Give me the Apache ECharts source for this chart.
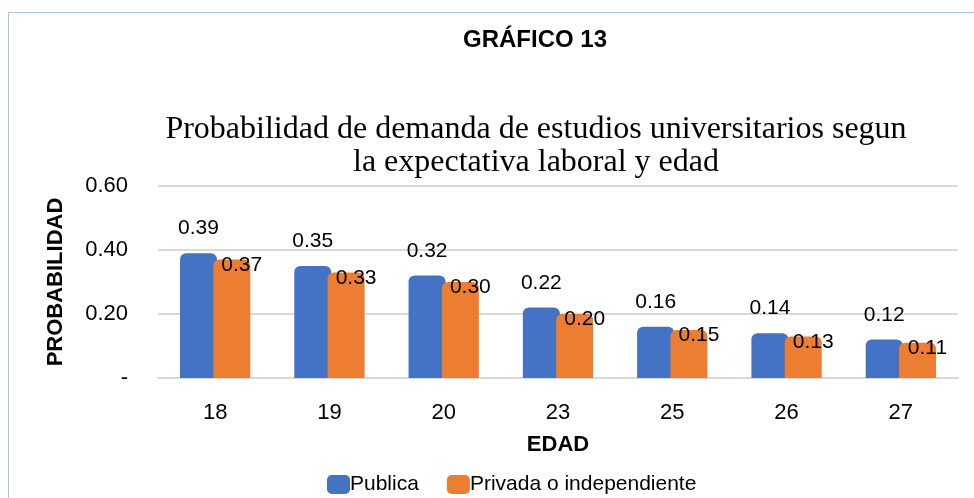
<!DOCTYPE html>
<html>
<head>
<meta charset="utf-8">
<script src="https://cdn.jsdelivr.net/npm/echarts@6/dist/echarts.min.js"></script>
<style>
  html, body { margin: 0; padding: 0; background: #fff; }
  #main { width: 974px; height: 498px; }
</style>
</head>
<body>
<div id="main"></div>
<script>
var edades = ['18', '19', '20', '23', '25', '26', '27'];
var publica = [0.39, 0.35, 0.32, 0.22, 0.16, 0.14, 0.12];
var privada = [0.37, 0.33, 0.30, 0.20, 0.15, 0.13, 0.11];

var sans = '"Liberation Sans", Arial, sans-serif';
var myChart = echarts.init(document.getElementById('main'));

var option = {
  backgroundColor: '#fff',
  color: ['#4472C4', '#ED7D31'],
  graphic: [{
    type: 'rect',
    shape: { x: 8.5, y: 12.5, width: 980, height: 500 },
    style: { fill: 'none', stroke: '#A9C4EB', lineWidth: 1 },
    silent: true
  }],
  title: [{
    text: 'GRÁFICO 13',
    left: 530, top: 23, textAlign: 'center',
    textStyle: { fontFamily: sans, fontWeight: 'bold', fontSize: 24, color: '#000' }
  }, {
    text: 'Probabilidad de demanda de estudios universitarios segun\nla expectativa laboral y edad',
    left: 531, top: 108, textAlign: 'center',
    textStyle: { fontFamily: 'Liberation Serif', fontWeight: 'normal', fontSize: 32, lineHeight: 33, color: '#000' }
  }],
  legend: {
    left: 322, top: 469,
    itemWidth: 23, itemHeight: 19, itemGap: 28,
    icon: 'roundRect',
    textStyle: { fontFamily: sans, fontSize: 21, color: '#000', padding: [0, 0, 0, -5] },
    data: ['Publica', 'Privada o independiente']
  },
  grid: { left: 158, right: 16, top: 186, bottom: 120 },
  xAxis: {
    type: 'category',
    data: edades,
    name: 'EDAD',
    nameLocation: 'middle',
    nameGap: 56,
    nameTextStyle: { fontFamily: sans, fontWeight: 'bold', fontSize: 22, color: '#000' },
    axisLine: { lineStyle: { color: '#D9D9D9', width: 2 } },
    axisTick: { show: false },
    axisLabel: { fontFamily: sans, fontSize: 22, color: '#000', margin: 24 }
  },
  yAxis: {
    type: 'value',
    min: 0, max: 0.6, interval: 0.2,
    name: 'PROBABILIDAD',
    nameLocation: 'middle',
    nameGap: 91,
    nameRotate: 90,
    nameTextStyle: { fontFamily: sans, fontWeight: 'bold', fontSize: 22, color: '#000' },
    axisLine: { show: false },
    axisTick: { show: false },
    splitLine: { lineStyle: { color: '#D9D9D9', width: 2 } },
    axisLabel: {
      fontFamily: sans, fontSize: 22, color: '#000', margin: 30,
      formatter: function (v) {
        if (v === 0) return '-';
        return v.toFixed(2);
      }
    }
  },
  series: [{
    name: 'Publica',
    type: 'bar',
    data: publica,
    barWidth: 37,
    barGap: '-10%',
    itemStyle: { borderRadius: [6, 6, 0, 0] },
    label: {
      show: true, position: 'top', distance: 14,
      fontFamily: sans, fontSize: 21, color: '#000',
      formatter: function (p) { return p.value.toFixed(2); }
    }
  }, {
    name: 'Privada o independiente',
    type: 'bar',
    data: privada,
    barWidth: 37,
    itemStyle: { borderRadius: [6, 6, 0, 0] },
    z: 3,
    label: {
      show: true, position: 'insideTop', distance: 0, offset: [10, -5],
      fontFamily: sans, fontSize: 21, color: '#000',
      formatter: function (p) { return p.value.toFixed(2); }
    }
  }]
};

myChart.setOption(option);
</script>
</body>
</html>
